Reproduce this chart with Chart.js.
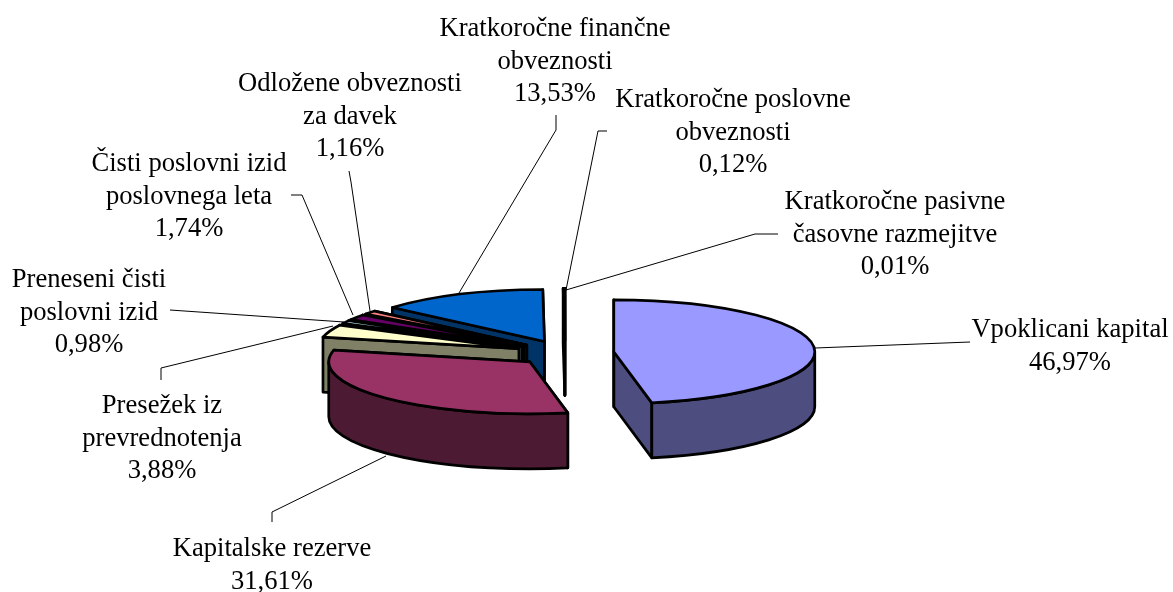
<!DOCTYPE html>
<html><head><meta charset="utf-8">
<style>html,body{margin:0;padding:0;background:#fff}#wrap{width:1173px;height:592px}</style>
<script src="https://cdn.jsdelivr.net/npm/chart.js@4/dist/chart.umd.min.js"></script>
</head><body><div id="wrap"><canvas id="c" width="1173" height="592"></canvas></div>
<script>
const categories = ["Vpoklicani kapital","Kapitalske rezerve","Presežek iz prevrednotenja","Preneseni čisti poslovni izid","Čisti poslovni izid poslovnega leta","Odložene obveznosti za davek","Kratkoročne finančne obveznosti","Kratkoročne poslovne obveznosti","Kratkoročne pasivne časovne razmejitve"];
const shares = [46.97,31.61,3.88,0.98,1.74,1.16,13.53,0.12,0.01];
const labelLines = [["Vpoklicani kapital"],["Kapitalske rezerve"],["Presežek iz","prevrednotenja"],["Preneseni čisti","poslovni izid"],["Čisti poslovni izid","poslovnega leta"],["Odložene obveznosti","za davek"],["Kratkoročne finančne","obveznosti"],["Kratkoročne poslovne","obveznosti"],["Kratkoročne pasivne","časovne razmejitve"]];
const topColors = ["#9999FF","#993366","#FFFFCC","#CCFFFF","#660066","#FF8080","#0066CC","#CCCCFF","#000080"];
const sideColors = ["#4D4D80","#4D1A33","#808066","#668080","#330033","#804040","#003366","#666680","#000040"];
// label layout: centre x, first baseline y
const labelAnchors = [[1070,337],[272,556],[162,413],[89,287],[189,171],[350,91],[555,36],[733,107],[895,209]];
const leaderPaths = [[[815,348],[970,342]],[[386,456],[272,512],[272,522]],[[333,326],[161,368],[161,380]],[[344,322],[170,310]],[[353,315],[302,195],[291,195]],[[370,311],[351,182],[349,171]],[[459,293],[556,130],[556,115]],[[566,290],[598,131],[607,131]],[[566,290],[755,234],[778,234]]];
const RADIUS=201, SQUASH=52/201, DEPTH=55, EXPLODE=49, CX=565, CY=353, LINE_H=32.7, EDGE=2.7;

function sliceGeom(el){
  const a0=el.startAngle,a1=el.endAngle,mid=(a0+a1)/2,R=el.outerRadius;
  const cx=el.x, cy=CY+(el.y-CY)*SQUASH;
  return {a0,a1,mid,R,cx,cy,ry:R*SQUASH,P:a=>[cx+R*Math.cos(a),cy+R*SQUASH*Math.sin(a)]};
}
const pie3d={id:'pie3d',
  afterDatasetsUpdate(chart){
    // explode every slice by moving its arc element along its own mid angle
    chart.getDatasetMeta(0).data.forEach(el=>{
      const mid=(el.startAngle+el.endAngle)/2;
      el.x+=Math.cos(mid)*EXPLODE;
      el.y+=Math.sin(mid)*EXPLODE;
    });
  },
  beforeDatasetsDraw(chart){
    const ctx=chart.ctx, arcs=chart.getDatasetMeta(0).data;
    ctx.save();
    ctx.lineWidth=EDGE;ctx.lineJoin='round';ctx.strokeStyle='#000';
    const order=arcs.map((el,i)=>({g:sliceGeom(el),i})).sort((p,q)=>Math.sin(p.g.mid)-Math.sin(q.g.mid));
    for(const {g,i} of order){
      ctx.fillStyle=sideColors[i];
      for(const a of [g.a1,g.a0]){
        const p=g.P(a);
        ctx.beginPath();ctx.moveTo(g.cx,g.cy);ctx.lineTo(p[0],p[1]);ctx.lineTo(p[0],p[1]+DEPTH);ctx.lineTo(g.cx,g.cy+DEPTH);ctx.closePath();ctx.fill();ctx.stroke();
      }
      const s=Math.max(g.a0,0), e=Math.min(g.a1,Math.PI);
      if(e>s){
        ctx.beginPath();ctx.ellipse(g.cx,g.cy,g.R,g.ry,0,s,e);ctx.ellipse(g.cx,g.cy+DEPTH,g.R,g.ry,0,e,s,true);ctx.closePath();ctx.fill();ctx.stroke();
      }
    }
    ctx.restore();
    ctx.save();
    ctx.translate(0,CY);ctx.scale(1,SQUASH);ctx.translate(0,-CY);
  },
  afterDatasetsDraw(chart){
    const ctx=chart.ctx, arcs=chart.getDatasetMeta(0).data;
    ctx.restore();
    ctx.save();
    ctx.lineWidth=EDGE;ctx.lineJoin='round';ctx.strokeStyle='#000';
    arcs.forEach(el=>{
      const g=sliceGeom(el);
      ctx.beginPath();ctx.moveTo(g.cx,g.cy);ctx.ellipse(g.cx,g.cy,g.R,g.ry,0,g.a0,g.a1);ctx.closePath();ctx.stroke();
    });
    ctx.lineWidth=1;
    leaderPaths.forEach(path=>{
      ctx.beginPath();path.forEach((p,j)=>j?ctx.lineTo(p[0],p[1]):ctx.moveTo(p[0],p[1]));ctx.stroke();
    });
    ctx.fillStyle='#000';ctx.font='26.6px "Liberation Serif"';ctx.textAlign='center';ctx.textBaseline='alphabetic';
    labelLines.forEach((ls,i)=>{
      const [x,y]=labelAnchors[i];
      const all=ls.concat(shares[i].toFixed(2).replace('.',',')+'%');
      all.forEach((t,j)=>ctx.fillText(t,x,y+j*LINE_H));
    });
    ctx.restore();
  }
};
new Chart(document.getElementById('c'),{
  type:'pie',
  data:{labels:categories,datasets:[{data:shares,backgroundColor:topColors,borderWidth:0,offset:0,hoverOffset:0,radius:RADIUS,clip:false}]},
  options:{responsive:false,animation:false,events:[],
    layout:{padding:{top:2*(CY-296),right:2*(586.5-CX)}},
    plugins:{legend:{display:false},tooltip:{enabled:false}}},
  plugins:[pie3d]
});
</script></body></html>
